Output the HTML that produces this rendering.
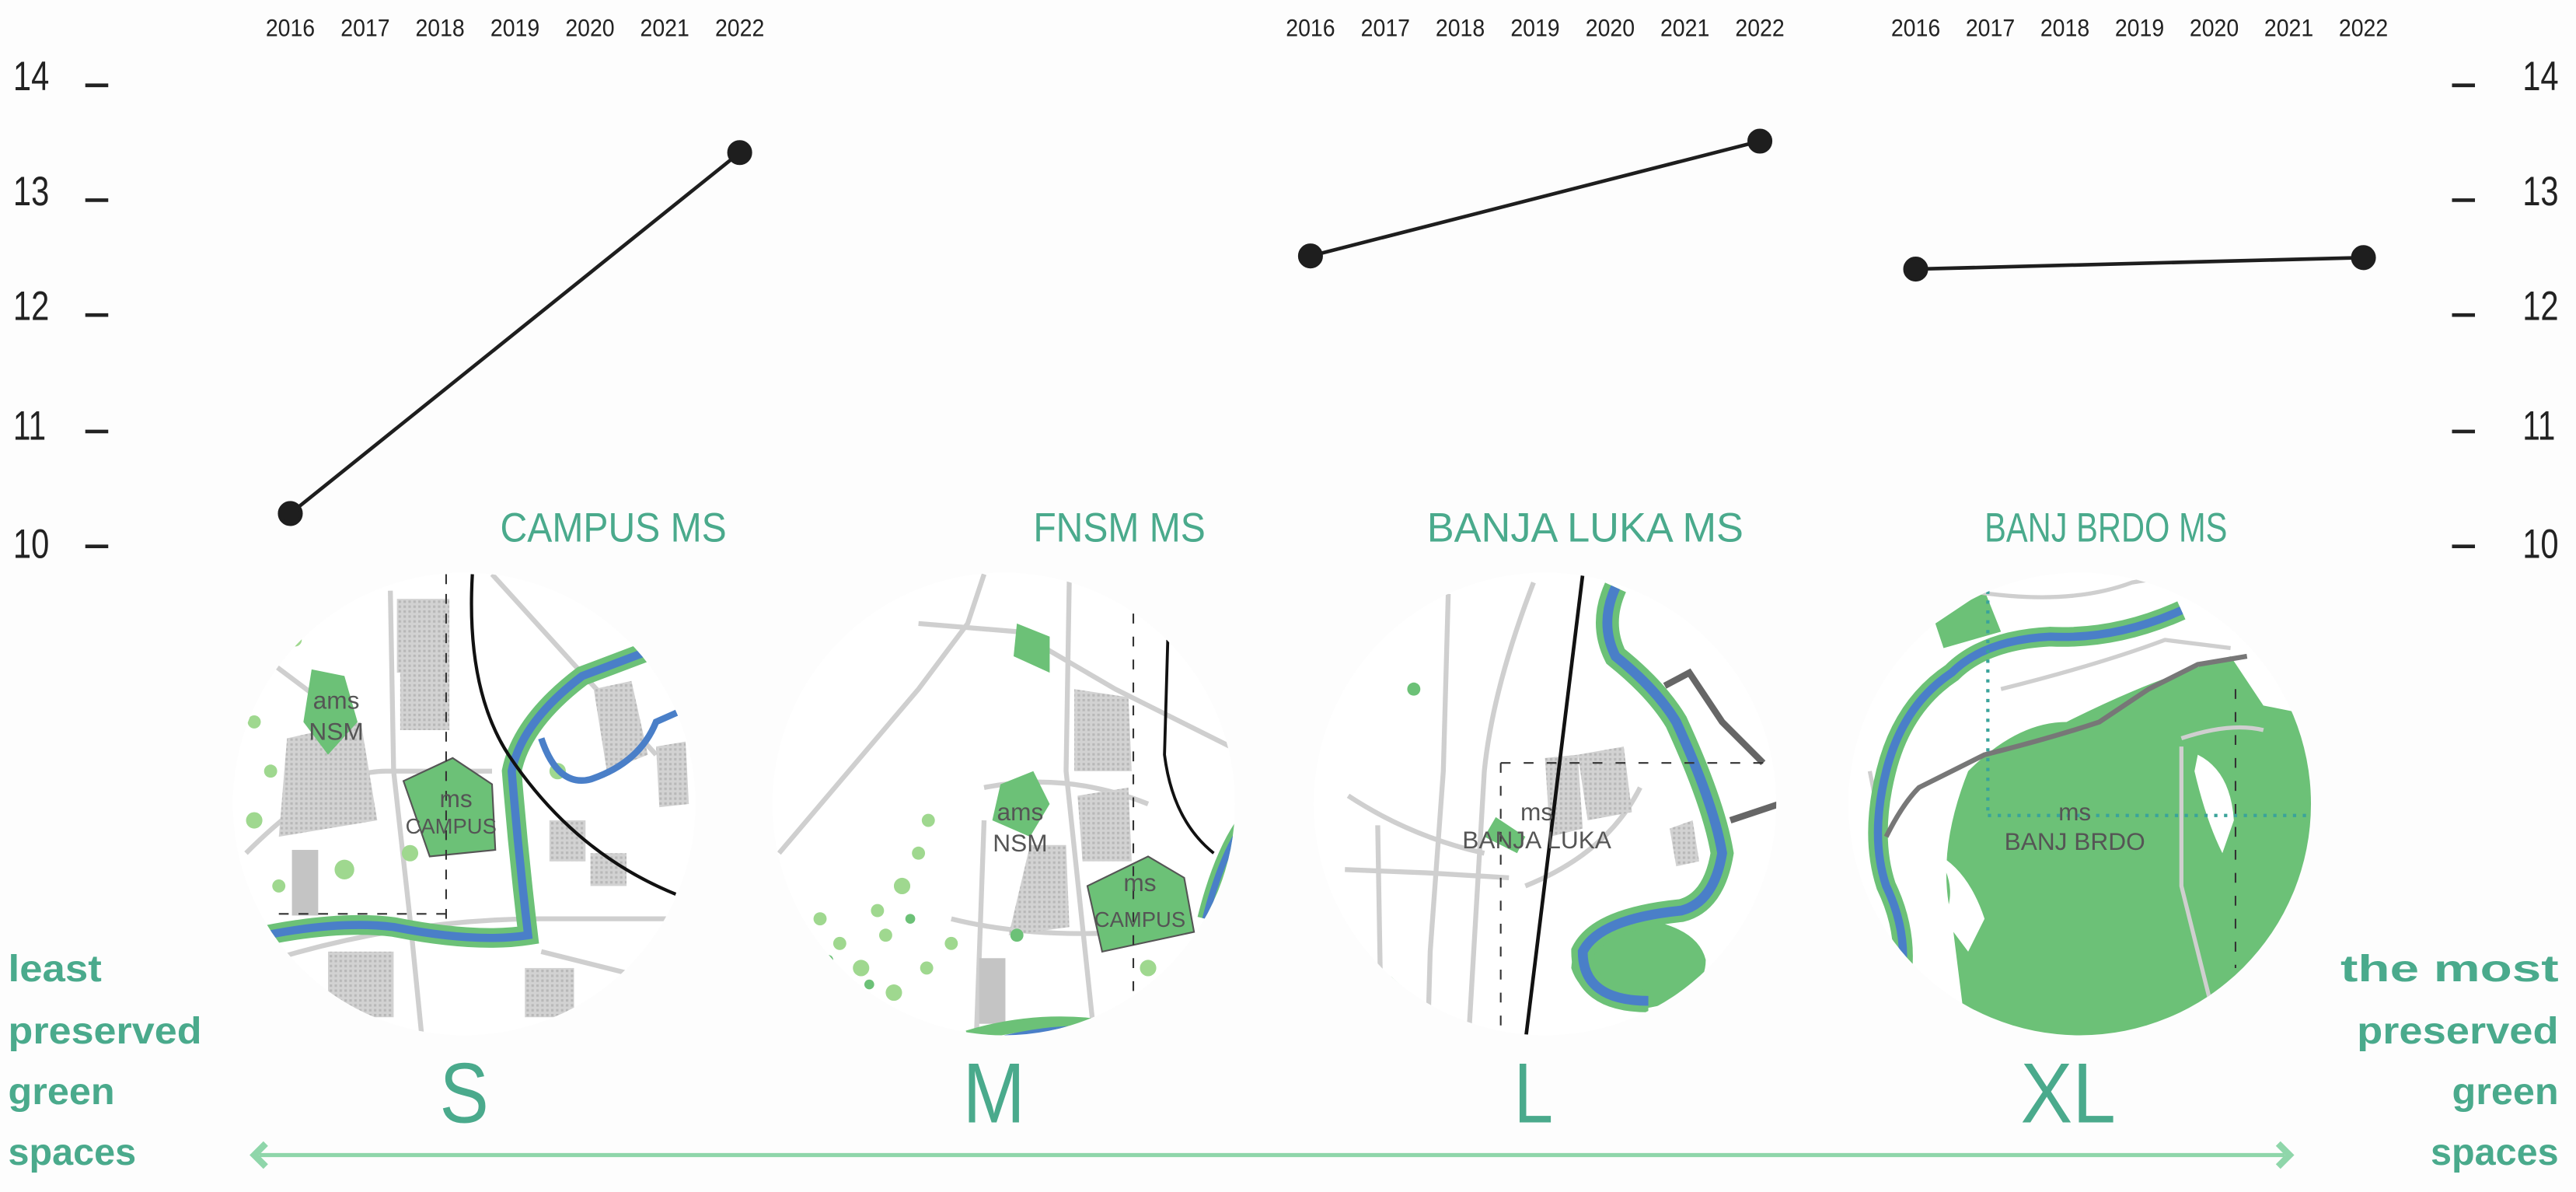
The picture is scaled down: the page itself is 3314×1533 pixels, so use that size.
<!DOCTYPE html>
<html><head><meta charset="utf-8"><style>
html,body{margin:0;padding:0;background:#fdfdfd;}
svg{display:block}
text{font-family:"Liberation Sans Narrow","Liberation Sans",sans-serif;}
</style></head><body>
<svg width="3314" height="1533" viewBox="0 0 1570.6 726.5" xmlns="http://www.w3.org/2000/svg">
<defs>
<pattern id="h" width="3" height="3" patternUnits="userSpaceOnUse"><rect width="3" height="3" fill="#d2d2d2"/><rect width="1.5" height="1.5" fill="#b8b8b8"/></pattern>
<clipPath id="c1"><circle cx="283" cy="490" r="141"/></clipPath>
<clipPath id="c2"><circle cx="612" cy="490" r="141"/></clipPath>
<clipPath id="c3"><circle cx="942" cy="490" r="141"/></clipPath>
<clipPath id="c4"><circle cx="1268" cy="490" r="141"/></clipPath>
</defs>
<rect width="1570.6" height="726.5" fill="#fdfdfd"/>

<g font-size="25" fill="#222" lengthAdjust="spacingAndGlyphs">
<text x="8" y="55" textLength="22" lengthAdjust="spacingAndGlyphs">14</text><text x="8" y="125" textLength="22" lengthAdjust="spacingAndGlyphs">13</text><text x="8" y="195" textLength="22" lengthAdjust="spacingAndGlyphs">12</text><text x="8" y="268" textLength="20" lengthAdjust="spacingAndGlyphs">11</text><text x="8" y="340" textLength="22" lengthAdjust="spacingAndGlyphs">10</text>
<text x="1538" y="55" textLength="22" lengthAdjust="spacingAndGlyphs">14</text><text x="1538" y="125" textLength="22" lengthAdjust="spacingAndGlyphs">13</text><text x="1538" y="195" textLength="22" lengthAdjust="spacingAndGlyphs">12</text><text x="1538" y="268" textLength="20" lengthAdjust="spacingAndGlyphs">11</text><text x="1538" y="340" textLength="22" lengthAdjust="spacingAndGlyphs">10</text>
</g>
<g stroke="#222" stroke-width="2.2">
<line x1="52" y1="52" x2="66" y2="52"/><line x1="52" y1="122" x2="66" y2="122"/><line x1="52" y1="192" x2="66" y2="192"/><line x1="52" y1="263" x2="66" y2="263"/><line x1="52" y1="333" x2="66" y2="333"/>
<line x1="1495" y1="52" x2="1509" y2="52"/><line x1="1495" y1="122" x2="1509" y2="122"/><line x1="1495" y1="192" x2="1509" y2="192"/><line x1="1495" y1="263" x2="1509" y2="263"/><line x1="1495" y1="333" x2="1509" y2="333"/>
</g>

<g font-size="15" fill="#222">
<text x="162" y="22" textLength="30" lengthAdjust="spacingAndGlyphs">2016</text><text x="207.7" y="22" textLength="30" lengthAdjust="spacingAndGlyphs">2017</text><text x="253.3" y="22" textLength="30" lengthAdjust="spacingAndGlyphs">2018</text><text x="299" y="22" textLength="30" lengthAdjust="spacingAndGlyphs">2019</text><text x="344.7" y="22" textLength="30" lengthAdjust="spacingAndGlyphs">2020</text><text x="390.3" y="22" textLength="30" lengthAdjust="spacingAndGlyphs">2021</text><text x="436" y="22" textLength="30" lengthAdjust="spacingAndGlyphs">2022</text>
<text x="784" y="22" textLength="30" lengthAdjust="spacingAndGlyphs">2016</text><text x="829.7" y="22" textLength="30" lengthAdjust="spacingAndGlyphs">2017</text><text x="875.3" y="22" textLength="30" lengthAdjust="spacingAndGlyphs">2018</text><text x="921" y="22" textLength="30" lengthAdjust="spacingAndGlyphs">2019</text><text x="966.7" y="22" textLength="30" lengthAdjust="spacingAndGlyphs">2020</text><text x="1012.3" y="22" textLength="30" lengthAdjust="spacingAndGlyphs">2021</text><text x="1058" y="22" textLength="30" lengthAdjust="spacingAndGlyphs">2022</text>
<text x="1153" y="22" textLength="30" lengthAdjust="spacingAndGlyphs">2016</text><text x="1198.5" y="22" textLength="30" lengthAdjust="spacingAndGlyphs">2017</text><text x="1244" y="22" textLength="30" lengthAdjust="spacingAndGlyphs">2018</text><text x="1289.5" y="22" textLength="30" lengthAdjust="spacingAndGlyphs">2019</text><text x="1335" y="22" textLength="30" lengthAdjust="spacingAndGlyphs">2020</text><text x="1380.5" y="22" textLength="30" lengthAdjust="spacingAndGlyphs">2021</text><text x="1426" y="22" textLength="30" lengthAdjust="spacingAndGlyphs">2022</text>
</g>

<g stroke="#1e1e1e" stroke-width="2.2" fill="#1e1e1e">
<line x1="177" y1="313" x2="451" y2="93"/><circle cx="177" cy="313" r="6.5"/><circle cx="451" cy="93" r="6.5"/>
<line x1="799" y1="156" x2="1073" y2="86"/><circle cx="799" cy="156" r="6.5"/><circle cx="1073" cy="86" r="6.5"/>
<line x1="1168" y1="164" x2="1441" y2="157"/><circle cx="1168" cy="164" r="6.5"/><circle cx="1441" cy="157" r="6.5"/>
</g>

<g font-size="25" fill="#4aaa8c">
<text x="305" y="330" textLength="138" lengthAdjust="spacingAndGlyphs">CAMPUS MS</text>
<text x="630" y="330" textLength="105" lengthAdjust="spacingAndGlyphs">FNSM MS</text>
<text x="870" y="330" textLength="193" lengthAdjust="spacingAndGlyphs">BANJA LUKA MS</text>
<text x="1210" y="330" textLength="148" lengthAdjust="spacingAndGlyphs">BANJ BRDO MS</text>
</g>

<!-- MAP S -->
<g clip-path="url(#c1)">
<rect x="140" y="345" width="290" height="290" fill="#fff"/>
<g stroke="#cfcfcf" stroke-width="3" fill="none">
<path d="M238 360 L240 470 L250 560 L258 640"/><path d="M150 520 Q200 470 235 470 L300 470"/><path d="M150 590 Q240 560 330 560 L420 560"/><path d="M300 350 L400 460"/><path d="M160 400 L200 430"/><path d="M330 580 L410 600"/>
</g>
<rect x="242" y="365" width="32" height="45" fill="url(#h)"/><rect x="244" y="405" width="30" height="40" fill="url(#h)"/>
<path d="M175 450 L220 440 L230 500 L170 510 Z" fill="url(#h)"/>
<path d="M362 420 L385 415 L395 460 L370 470 Z" fill="url(#h)"/><path d="M400 455 L418 452 L420 490 L402 492 Z" fill="url(#h)"/>
<rect x="335" y="500" width="22" height="25" fill="url(#h)"/><rect x="360" y="520" width="22" height="20" fill="url(#h)"/>
<rect x="200" y="580" width="40" height="40" fill="url(#h)"/><rect x="320" y="590" width="30" height="30" fill="url(#h)"/>
<rect x="178" y="518" width="16" height="40" fill="#c4c4c4"/>
<path d="M190 408 L210 412 L218 440 L200 460 L185 440 Z" fill="#6cc177"/>
<path d="M246 476 L276 462 L300 478 L302 518 L262 522 Z" fill="#6cc177" stroke="#555" stroke-width="1"/>
<g fill="#9fd88f"><circle cx="155" cy="440" r="4"/><circle cx="165" cy="470" r="4"/><circle cx="155" cy="500" r="5"/><circle cx="170" cy="540" r="4"/><circle cx="250" cy="520" r="5"/><circle cx="210" cy="530" r="6"/><circle cx="340" cy="470" r="5"/><circle cx="180" cy="390" r="4"/></g>
<path d="M140 575 Q200 560 240 565 Q290 575 322 570 Q316 520 312 470 Q318 440 355 412 L400 395" fill="none" stroke="#6cc177" stroke-width="12"/>
<path d="M140 575 Q200 560 240 565 Q290 575 322 570 Q316 520 312 470 Q318 440 355 412 L400 395" fill="none" stroke="#4a7fc8" stroke-width="5"/>
<path d="M330 450 Q340 480 360 475 Q390 465 400 440 L418 432" fill="none" stroke="#4a7fc8" stroke-width="4"/>
<path d="M288 350 Q284 420 310 460 Q350 520 412 545" fill="none" stroke="#111" stroke-width="2"/>
<line x1="272" y1="350" x2="272" y2="560" stroke="#333" stroke-width="1" stroke-dasharray="6,6"/>
<line x1="170" y1="557" x2="275" y2="557" stroke="#333" stroke-width="1" stroke-dasharray="6,6"/>
<g fill="#555" text-anchor="middle" font-family="Liberation Sans,sans-serif"><text x="205" y="432" font-size="15">ams</text><text x="205" y="451" font-size="15">NSM</text><text x="278" y="492" font-size="15">ms</text><text x="275" y="508" font-size="13">CAMPUS</text></g>
</g>

<!-- MAP M -->
<g clip-path="url(#c2)">
<rect x="470" y="345" width="290" height="290" fill="#fff"/>
<g stroke="#cfcfcf" stroke-width="3" fill="none">
<path d="M475 520 L560 420 L590 380 L600 350"/><path d="M652 350 L650 470 L668 640"/><path d="M600 480 Q650 470 700 490"/><path d="M580 560 Q640 575 720 565"/><path d="M560 380 L620 385 L680 420 L760 460"/><path d="M600 500 L595 640"/>
</g>
<path d="M655 420 L688 425 L690 470 L655 470 Z" fill="url(#h)"/><path d="M657 485 L688 480 L690 525 L660 525 Z" fill="url(#h)"/>
<path d="M628 515 L650 515 L652 565 L615 570 Z" fill="url(#h)"/>
<rect x="597" y="584" width="16" height="40" fill="#c4c4c4"/>
<path d="M620 380 L640 388 L640 410 L618 400 Z" fill="#6cc177"/>
<path d="M610 478 L630 470 L640 490 L628 510 L605 500 Z" fill="#6cc177"/>
<path d="M663 540 L700 522 L722 535 L728 568 L672 580 Z" fill="#6cc177" stroke="#555" stroke-width="1"/>
<g fill="#9fd88f"><circle cx="500" cy="560" r="4"/><circle cx="512" cy="575" r="4"/><circle cx="525" cy="590" r="5"/><circle cx="540" cy="570" r="4"/><circle cx="550" cy="540" r="5"/><circle cx="560" cy="520" r="4"/><circle cx="520" cy="610" r="4"/><circle cx="545" cy="605" r="5"/><circle cx="565" cy="590" r="4"/><circle cx="535" cy="555" r="4"/><circle cx="580" cy="575" r="4"/><circle cx="700" cy="590" r="5"/><circle cx="566" cy="500" r="4"/></g>
<g fill="#6cc177"><circle cx="505" cy="585" r="3"/><circle cx="530" cy="600" r="3"/><circle cx="555" cy="560" r="3"/><circle cx="620" cy="570" r="4"/></g>
<path d="M735 560 Q745 520 760 500" fill="none" stroke="#6cc177" stroke-width="10"/><path d="M735 560 Q745 520 760 500" fill="none" stroke="#4a7fc8" stroke-width="4"/>
<path d="M590 632 Q630 620 670 625" fill="none" stroke="#6cc177" stroke-width="8"/><path d="M610 633 Q640 626 660 627" fill="none" stroke="#4a7fc8" stroke-width="3"/>
<path d="M712 390 L710 460 Q715 500 740 520" fill="none" stroke="#111" stroke-width="1.8"/>
<line x1="691" y1="360" x2="691" y2="610" stroke="#333" stroke-width="1" stroke-dasharray="6,8"/>
<g fill="#555" text-anchor="middle" font-family="Liberation Sans,sans-serif"><text x="622" y="500" font-size="15">ams</text><text x="622" y="519" font-size="15">NSM</text><text x="695" y="543" font-size="15">ms</text><text x="695" y="565" font-size="13">CAMPUS</text></g>
</g>

<!-- MAP L -->
<g clip-path="url(#c3)">
<rect x="800" y="345" width="290" height="290" fill="#fff"/>
<g stroke="#cfcfcf" stroke-width="3" fill="none">
<path d="M883 362 L880 470 L872 580 L870 650"/><path d="M935 355 Q910 420 905 470 L895 640"/><path d="M822 485 Q860 510 905 520"/><path d="M840 503 L842 620"/><path d="M820 530 L870 532 L920 535"/><path d="M930 540 Q980 520 1000 480"/>
</g>
<path d="M942 462 L962 460 L965 505 L945 510 Z" fill="url(#h)"/>
<path d="M962 460 L990 455 L995 495 L968 500 Z" fill="url(#h)"/>
<path d="M1018 505 L1032 500 L1036 525 L1022 528 Z" fill="url(#h)"/>
<path d="M912 498 L930 510 L925 520 L905 510 Z" fill="#6cc177"/>
<path d="M958 590 Q960 560 1000 560 Q1035 565 1040 585 Q1040 610 1000 615 Q965 612 958 590 Z" fill="#6cc177"/>
<path d="M985 358 Q975 380 985 400 Q1010 420 1022 440 Q1045 490 1050 520 Q1045 550 1025 555 Q975 560 965 580 Q965 610 1005 610" fill="none" stroke="#6cc177" stroke-width="14"/>
<path d="M985 358 Q975 380 985 400 Q1010 420 1022 440 Q1045 490 1050 520 Q1045 550 1025 555 Q975 560 965 580 Q965 610 1005 610" fill="none" stroke="#4a7fc8" stroke-width="6"/>
<path d="M1015 418 L1030 410 L1050 440 L1075 465" fill="none" stroke="#666" stroke-width="4"/>
<path d="M1055 500 L1085 490" fill="none" stroke="#666" stroke-width="4"/>
<path d="M965 350 L930 635" stroke="#111" stroke-width="2.2"/>
<line x1="915" y1="465" x2="1080" y2="465" stroke="#333" stroke-width="1" stroke-dasharray="6,8"/>
<line x1="915" y1="465" x2="915" y2="635" stroke="#333" stroke-width="1" stroke-dasharray="6,8"/>
<path d="M848 595 L870 615 L865 618 Z" fill="#6cc177"/><circle cx="862" cy="420" r="4" fill="#6cc177"/>
<g fill="#555" text-anchor="middle" font-family="Liberation Sans,sans-serif"><text x="937" y="500" font-size="15">ms</text><text x="937" y="517" font-size="15">BANJA LUKA</text></g>
</g>

<!-- MAP XL -->
<g clip-path="url(#c4)">
<rect x="1125" y="345" width="290" height="290" fill="#fff"/>
<path d="M1200 470 Q1230 440 1260 440 Q1300 420 1330 410 L1360 400 L1380 430 L1430 440 L1430 640 L1200 640 Q1195 600 1190 560 Q1180 520 1200 470 Z" fill="#6cc177"/>
<path d="M1340 460 Q1360 470 1362 500 L1355 520 Q1345 500 1338 470 Z" fill="#fff"/>
<path d="M1180 380 L1210 360 L1220 385 L1185 395 Z" fill="#6cc177"/>
<path d="M1180 520 Q1195 540 1185 560 L1200 580 L1210 560 Q1200 530 1180 520 Z" fill="#fff"/>
<g stroke="#cfcfcf" stroke-width="2.5" fill="none">
<path d="M1200 360 Q1260 370 1300 355 L1330 350"/><path d="M1220 420 Q1280 405 1320 390 L1360 395"/><path d="M1330 450 Q1360 440 1380 445"/><path d="M1330 455 L1330 540 L1350 620"/><path d="M1140 470 Q1150 520 1160 580"/>
</g>
<path d="M1330 372 Q1290 390 1250 388 Q1210 390 1190 410 Q1160 430 1150 470 Q1140 510 1150 540 Q1162 565 1160 590" fill="none" stroke="#6cc177" stroke-width="12"/>
<path d="M1330 372 Q1290 390 1250 388 Q1210 390 1190 410 Q1160 430 1150 470 Q1140 510 1150 540 Q1162 565 1160 590" fill="none" stroke="#4a7fc8" stroke-width="5"/>
<path d="M1150 510 Q1160 490 1170 480 L1190 470 L1210 460 Q1250 450 1280 440 L1310 420 L1340 405 L1370 400" fill="none" stroke="#777" stroke-width="3"/>
<line x1="1212" y1="360" x2="1212" y2="497" stroke="#3aa39a" stroke-width="2" stroke-dasharray="2,4"/>
<line x1="1212" y1="497" x2="1410" y2="497" stroke="#3aa39a" stroke-width="2" stroke-dasharray="2,4"/>
<line x1="1363" y1="420" x2="1363" y2="590" stroke="#333" stroke-width="1" stroke-dasharray="6,8"/>
<g fill="#555" text-anchor="middle" font-family="Liberation Sans,sans-serif"><text x="1265" y="500" font-size="15">ms</text><text x="1265" y="518" font-size="15">BANJ BRDO</text></g>
</g>

<g font-size="52" fill="#4aaa8c">
<text x="268" y="684" textLength="30" lengthAdjust="spacingAndGlyphs">S</text><text x="587" y="684" textLength="38" lengthAdjust="spacingAndGlyphs">M</text><text x="923" y="684" textLength="24" lengthAdjust="spacingAndGlyphs">L</text><text x="1232" y="684" textLength="58" lengthAdjust="spacingAndGlyphs">XL</text>
</g>

<g font-size="23" fill="#4aaa8c" font-weight="bold">
<text x="5" y="598" textLength="57" lengthAdjust="spacingAndGlyphs">least</text><text x="5" y="636" textLength="118" lengthAdjust="spacingAndGlyphs">preserved</text><text x="5" y="673" textLength="65" lengthAdjust="spacingAndGlyphs">green</text><text x="5" y="710" textLength="78" lengthAdjust="spacingAndGlyphs">spaces</text>
<text x="1427" y="598" textLength="133" lengthAdjust="spacingAndGlyphs">the most</text><text x="1437" y="636" textLength="123" lengthAdjust="spacingAndGlyphs">preserved</text><text x="1495" y="673" textLength="65" lengthAdjust="spacingAndGlyphs">green</text><text x="1482" y="710" textLength="78" lengthAdjust="spacingAndGlyphs">spaces</text>
</g>

<line x1="158" y1="704" x2="1393" y2="704" stroke="#8fd6aa" stroke-width="2.5"/>
<path d="M162 697 L155 704 L162 711" fill="none" stroke="#8fd6aa" stroke-width="4"/>
<path d="M1389 697 L1396 704 L1389 711" fill="none" stroke="#8fd6aa" stroke-width="4"/>
</svg>
</body></html>
